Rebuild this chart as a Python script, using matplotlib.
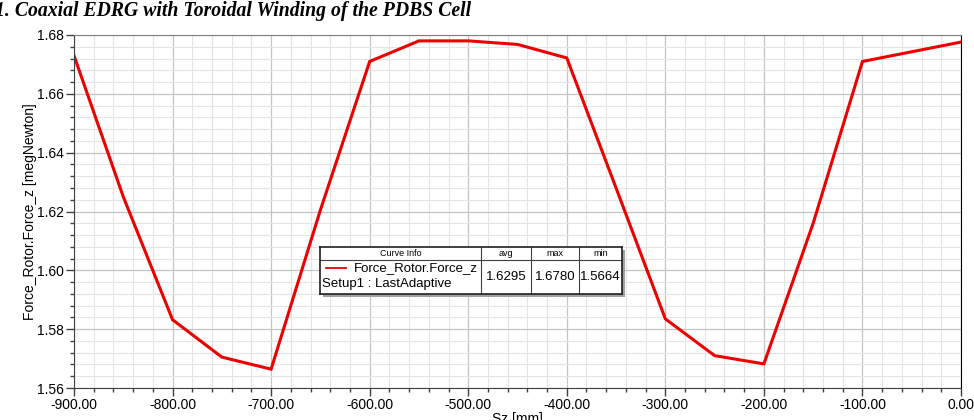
import numpy as np
import matplotlib
matplotlib.use("Agg")
import matplotlib.pyplot as plt
from matplotlib.ticker import MultipleLocator, FormatStrFormatter
from matplotlib.patches import Rectangle

sz = [-900, -850, -800, -750, -700, -650, -600, -550, -500, -450,
      -400, -350, -300, -250, -200, -150, -100, -50, 0]
force_z = [1.6730, 1.6250, 1.5832, 1.5705, 1.5664, 1.6205, 1.6710, 1.6780, 1.6780, 1.6768,
           1.6722, 1.6280, 1.5835, 1.5710, 1.5682, 1.6160, 1.6710, 1.6743, 1.6776]

curve_name = "Force_Rotor.Force_z"
setup_name = "Setup1 : LastAdaptive"
stat_names = ["avg", "max", "min"]
stat_vals = ["1.6295", "1.6780", "1.5664"]

plt.rcParams['font.family'] = ['Liberation Sans', 'DejaVu Sans']

fig = plt.figure(figsize=(9.74, 4.2), dpi=100)
ax = fig.add_axes([74/974, 1-388/420, (961-74)/974, (388-35)/420])

ax.plot(sz, force_z, color='#ee0000', linewidth=2.2, solid_joinstyle='miter')

ax.set_xlim(-900, 0)
ax.set_ylim(1.56, 1.68)
ax.xaxis.set_major_locator(MultipleLocator(100))
ax.xaxis.set_minor_locator(MultipleLocator(20))
ax.yaxis.set_major_locator(MultipleLocator(0.02))
ax.yaxis.set_minor_locator(MultipleLocator(0.004))
ax.xaxis.set_major_formatter(FormatStrFormatter('%.2f'))
ax.yaxis.set_major_formatter(FormatStrFormatter('%.2f'))

ax.grid(which='major', color='#c4c4c4', linewidth=0.9)
ax.grid(which='minor', color='#e4e4e4', linewidth=0.8)
ax.set_axisbelow(True)

ax.tick_params(which='major', direction='out', length=6, width=1, color='#404040',
               labelsize=10, pad=1)
ax.tick_params(which='minor', direction='out', length=3, width=1, color='#404040')
for s in ['left', 'bottom']:
    ax.spines[s].set_color('#404040')
ax.spines['top'].set_color('#808080')
ax.spines['right'].set_color('black')

ax.set_xlabel('Sz [mm]', fontsize=10, labelpad=0)
ax.set_ylabel('Force_Rotor.Force_z [megNewton]', fontsize=10, labelpad=0.5)

fig.text(-0.005, 0.998, '1. Coaxial EDRG with Toroidal Winding of the PDBS Cell',
         family='Liberation Serif', fontsize=14.2, weight='bold', style='italic',
         va='top', ha='left')

# curve info box
bx0, by0, bw, bh = 320, 247, 302, 47
fig.patches.append(Rectangle(((bx0+3)/974, 1-(by0+bh+3)/420), bw/974, bh/420,
                             transform=fig.transFigure, facecolor='#a0a0a0',
                             edgecolor='none', zorder=5))
lg = fig.add_axes([bx0/974, 1-(by0+bh)/420, bw/974, bh/420], zorder=6)
lg.set_xlim(0, bw)
lg.set_ylim(bh, 0)
lg.set_xticks([])
lg.set_yticks([])
lg.set_facecolor('white')
for s in lg.spines.values():
    s.set_color('#202020')
    s.set_linewidth(1.2)
cols = [0, 161, 211, 259, bw]
hrow = 13
lg.axhline(hrow, color='#404040', linewidth=0.8)
for c in cols[1:-1]:
    lg.axvline(c, color='#404040', linewidth=0.8)
lg.text((cols[0]+cols[1])/2, hrow/2, 'Curve Info', fontsize=6.5, ha='center', va='center')
for i, (n, v) in enumerate(zip(stat_names, stat_vals)):
    xc = (cols[i+1]+cols[i+2])/2
    lg.text(xc, hrow/2, n, fontsize=6.5, ha='center', va='center')
    lg.text(xc, 30, v, fontsize=9.5, ha='center', va='center')
lg.plot([6, 26], [21, 21], color='#ee0000', linewidth=1.3)
lg.text(158, 21.5, curve_name, fontsize=9.5, ha='right', va='center')
lg.text(2, 37, setup_name, fontsize=9.5, ha='left', va='center')

fig.savefig('out.png', dpi=100)
